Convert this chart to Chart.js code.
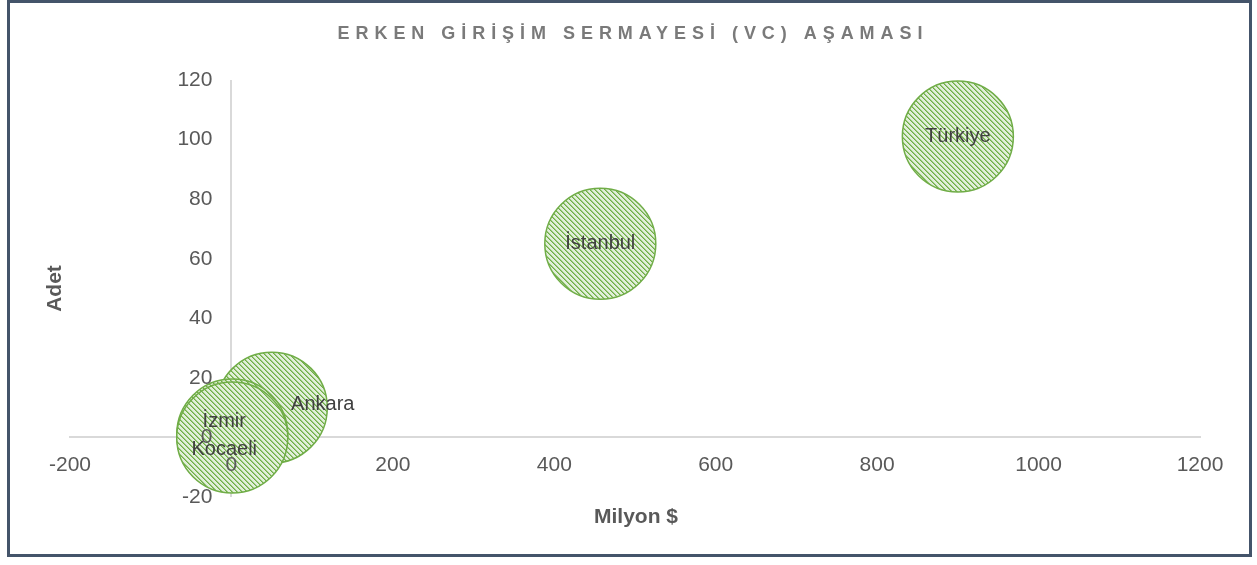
<!DOCTYPE html>
<html lang="tr">
<head>
<meta charset="utf-8">
<title>Erken Girişim Sermayesi (VC) Aşaması</title>
<script src="https://cdn.jsdelivr.net/npm/chart.js@4.4.1/dist/chart.umd.min.js"></script>
<style>
  html, body { margin: 0; padding: 0; background: #fff; }
  .wrap { position: relative; width: 1257px; height: 565px; }
  .frame {
    position: absolute; left: 7px; top: 0; width: 1245px; height: 557px;
    box-sizing: border-box; border: 3px solid #44546a; pointer-events: none;
  }
  canvas { position: absolute; left: 0; top: 0; }
</style>
</head>
<body>
<div class="wrap">
  <canvas id="bubble-chart" width="1257" height="565"></canvas>
  <div class="frame"></div>
</div>
<script>
// data
const cities = ["Türkiye", "İstanbul", "Ankara", "İzmir", "Kocaeli"];
const milyonDolar = [900, 457, 50, 1, 1];   // x
const adet = [101, 65, 10, 1, 0];            // y
const xTicks = [-200, 0, 200, 400, 600, 800, 1000, 1200];
const yTicks = [-20, 0, 20, 40, 60, 80, 100, 120];

const chartTitle = "ERKEN GİRİŞİM SERMAYESİ (VC) AŞAMASI";
const xTitle = "Milyon $";
const yTitle = "Adet";

// styling
const FONT = "'Liberation Sans', Arial, sans-serif";
const GREEN = "#70ad47";
const AXIS_GREY = "#d9d9d9";
const bubbleRadius = 55.5;
// the y labels sit a little left of the vertical axis (in x units)
const yLabelGap = 23.5;
// hand-moved data labels in the original (pixels from bubble centre)
const labelShift = {
  "Ankara": [51, -3],
  "İzmir": [-8, -13],
  "Kocaeli": [-8, 12],
};

function hatchPattern() {
  const size = 5;
  const c = document.createElement("canvas");
  c.width = size;
  c.height = size;
  const g = c.getContext("2d");
  g.fillStyle = "#e2efda";
  g.fillRect(0, 0, size, size);
  for (let y = 0; y < size; y++) {
    for (let x = 0; x < size; x++) {
      const k = (x - y + size) % size;
      if (k === 0) {
        g.fillStyle = GREEN;
        g.fillRect(x, y, 1, 1);
      } else if (k === 1) {
        g.fillStyle = "#9ccb80";
        g.fillRect(x, y, 1, 1);
      }
    }
  }
  return g.createPattern(c, "repeat");
}

const textPlugin = {
  id: "texts",
  afterDatasetsDraw(chart) {
    const ctx = chart.ctx;
    const meta = chart.getDatasetMeta(0);
    ctx.save();
    ctx.font = "20px " + FONT;
    ctx.fillStyle = "#404040";
    ctx.textAlign = "center";
    ctx.textBaseline = "middle";
    meta.data.forEach((pt, i) => {
      const s = labelShift[cities[i]] || [0, 0];
      ctx.fillText(cities[i], pt.x + s[0], pt.y + s[1]);
    });
    ctx.restore();
  },
  afterDraw(chart) {
    const ctx = chart.ctx;
    const area = chart.chartArea;
    ctx.save();
    // title, letter spaced like the Excel original
    ctx.font = "bold 18px " + FONT;
    ctx.fillStyle = "#7a7a7a";
    ctx.textAlign = "center";
    ctx.textBaseline = "middle";
    const plain = ctx.measureText(chartTitle).width;
    const spacing = (585 - plain) / (chartTitle.length - 1);
    ctx.letterSpacing = spacing + "px";
    ctx.fillText(chartTitle, 630 + spacing / 2, 34);
    ctx.letterSpacing = "0px";

    // axis titles
    ctx.font = "bold 21px " + FONT;
    ctx.fillStyle = "#595959";
    ctx.fillText(xTitle, 636, 517);
    ctx.translate(55, (area.top + area.bottom) / 2);
    ctx.rotate(-Math.PI / 2);
    ctx.fillText(yTitle, 0, 0);
    ctx.restore();
  },
};

const tickFont = { family: FONT, size: 21 };

new Chart(document.getElementById("bubble-chart"), {
  type: "bubble",
  data: {
    datasets: [
      {
        label: "VC",
        data: cities.map((c, i) => ({ x: milyonDolar[i], y: adet[i], r: bubbleRadius })),
        backgroundColor: hatchPattern(),
        borderColor: GREEN,
        borderWidth: 1.5,
      },
    ],
  },
  options: {
    responsive: false,
    animation: false,
    devicePixelRatio: 1,
    layout: { padding: { left: 70, right: 56, top: 80, bottom: 68 } },
    plugins: {
      legend: { display: false },
      tooltip: { enabled: false },
      title: { display: false },
    },
    scales: {
      x: {
        type: "linear",
        position: { y: 0 },
        min: xTicks[0],
        max: xTicks[xTicks.length - 1],
        afterFit: (s) => { s.height = 0; },
        afterBuildTicks: (s) => { s.ticks = xTicks.map((v) => ({ value: v })); },
        // the grid line at x = 0 is the vertical axis line
        grid: {
          display: true,
          drawTicks: false,
          lineWidth: 2,
          color: (c) => (c.tick && c.tick.value === 0 ? AXIS_GREY : "rgba(0,0,0,0)"),
        },
        border: { display: true, color: AXIS_GREY, width: 2 },
        ticks: {
          z: 1,
          autoSkip: false,
          maxRotation: 0,
          padding: 15,
          color: "#595959",
          font: tickFont,
          callback: (v) => String(v),
        },
      },
      y: {
        type: "linear",
        position: { x: -yLabelGap },
        min: yTicks[0],
        max: yTicks[yTicks.length - 1],
        afterFit: (s) => { s.width = 0; },
        afterBuildTicks: (s) => { s.ticks = yTicks.map((v) => ({ value: v })); },
        grid: { display: true, drawTicks: false, color: "rgba(0,0,0,0)" },
        border: { display: false },
        ticks: {
          z: 1,
          autoSkip: false,
          color: "#595959",
          font: tickFont,
          callback: (v) => String(v),
        },
      },
    },
  },
  plugins: [textPlugin],
});
</script>
</body>
</html>
